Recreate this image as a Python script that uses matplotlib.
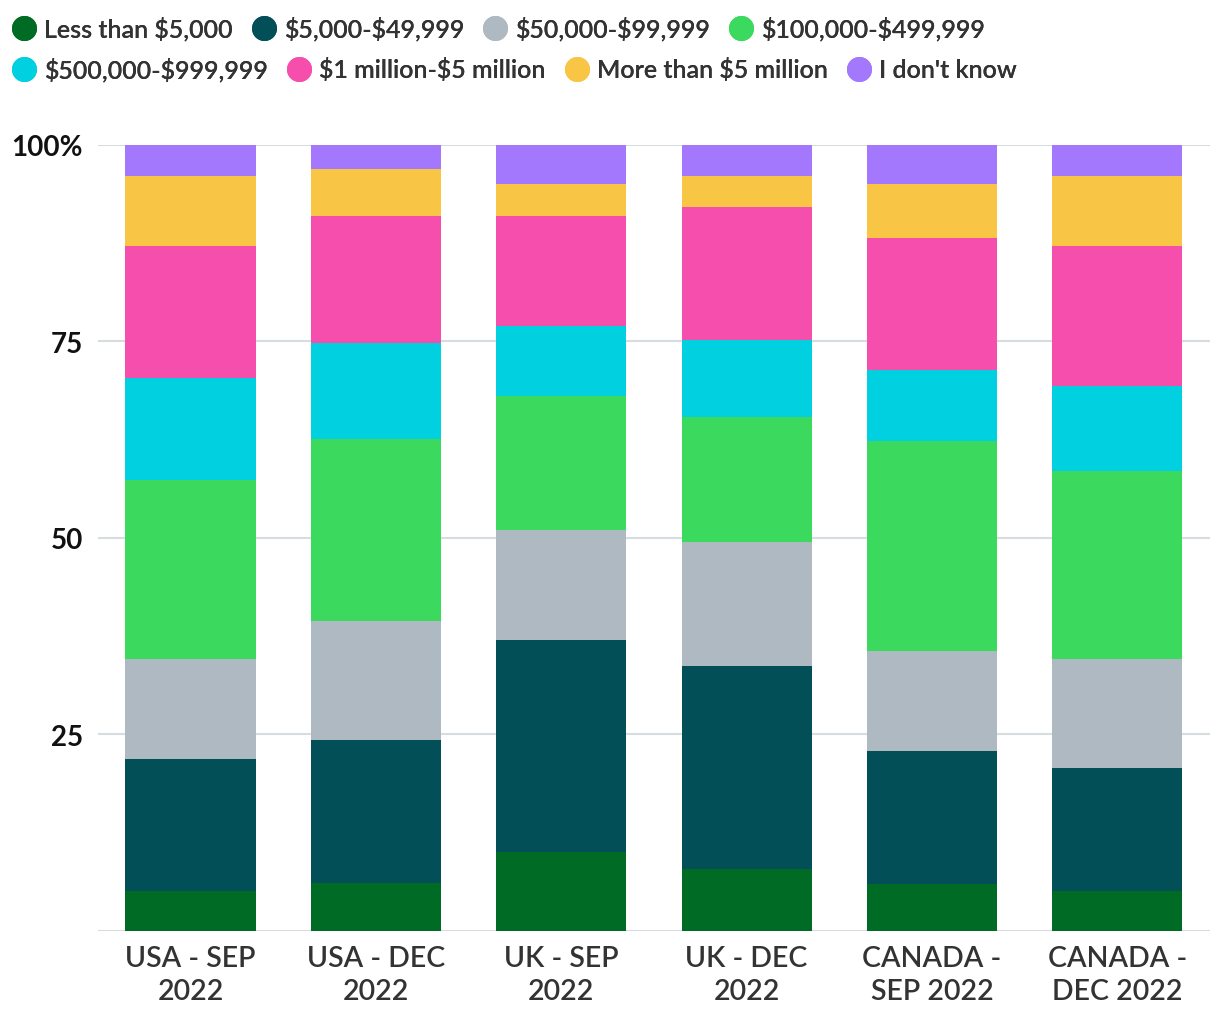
import matplotlib
matplotlib.use('Agg')
import matplotlib.pyplot as plt
from matplotlib.lines import Line2D
import numpy as np

plt.rcParams['font.family'] = ['Lato', 'DejaVu Sans']
plt.rcParams['text.parse_math'] = False

groups = ['USA - SEP\n2022', 'USA - DEC\n2022', 'UK - SEP\n2022',
          'UK - DEC\n2022', 'CANADA -\nSEP 2022', 'CANADA -\nDEC 2022']

series = ['Less than $5,000', '$5,000-$49,999', '$50,000-$99,999',
          '$100,000-$499,999', '$500,000-$999,999', '$1 million-$5 million',
          'More than $5 million', "I don't know"]

colors = ['#006b24', '#024f58', '#aeb9c1', '#3bd95e',
          '#00d0e0', '#f54ead', '#f8c544', '#a378fd']

# percent per group, one list per series
less_5k = [5.0, 6.1, 10.0, 7.9, 6.0, 5.0]
k5_50k = [16.8, 18.2, 27.0, 25.8, 16.8, 15.7]
k50_100k = [12.8, 15.1, 14.0, 15.8, 12.8, 13.9]
k100_500k = [22.7, 23.2, 17.0, 15.9, 26.7, 23.9]
k500k_1m = [13.0, 12.2, 8.9, 9.8, 9.0, 10.8]
m1_5m = [16.8, 16.1, 14.0, 16.9, 16.8, 17.8]
more_5m = [8.9, 6.0, 4.1, 3.9, 6.9, 8.9]
dont_know = [4.0, 3.1, 5.0, 4.0, 5.0, 4.0]

values = [less_5k, k5_50k, k50_100k, k100_500k, k500k_1m, m1_5m, more_5m, dont_know]

fig = plt.figure(figsize=(12.2, 10.2), dpi=100)
ax = fig.add_axes([0.0803, 0.0866, 0.9115, 0.7706])

x = np.arange(len(groups))
bottom = np.zeros(len(groups))
for name, vals, c in zip(series, values, colors):
    ax.bar(x, vals, width=0.703, bottom=bottom, color=c, label=name, zorder=3)
    bottom += np.array(vals)

ax.set_xlim(-0.5, 5.5)
ax.set_ylim(0, 100)
ax.set_yticks([0, 25, 50, 75, 100])
ax.set_yticklabels(['', '25', '50', '75', '100%'])
ax.grid(axis='y', color='#d5dde0', linewidth=1.5, zorder=0)
ax.set_xticks(x)
ax.set_xticklabels(groups, linespacing=1.35, fontweight='semibold')
for s in ax.spines.values():
    s.set_visible(False)
ax.tick_params(axis='y', length=0, pad=11, labelsize=20, labelcolor='#111111')
ax.tick_params(axis='x', length=0, pad=10, labelsize=20.5, labelcolor='#333333')
for t in ax.get_yticklabels():
    t.set_fontweight('bold')

# legend: two flowing rows
handles = [Line2D([], [], marker='o', linestyle='', markersize=18,
                  markerfacecolor=c, markeredgewidth=0) for c in colors]
rows = [(0, 4, 0.998), (4, 8, 0.958)]
for a, b, ytop in rows:
    leg = fig.legend(handles[a:b], series[a:b], ncol=4, loc='upper left',
                     bbox_to_anchor=(-0.003, ytop), frameon=False,
                     prop={'size': 18, 'weight': 'semibold'},
                     handlelength=1.0, handletextpad=0.3,
                     columnspacing=0.75, borderaxespad=0.3, borderpad=0.3,
                     labelcolor='#333333')
    fig.add_artist(leg)

fig.savefig('out.png', dpi=100)
